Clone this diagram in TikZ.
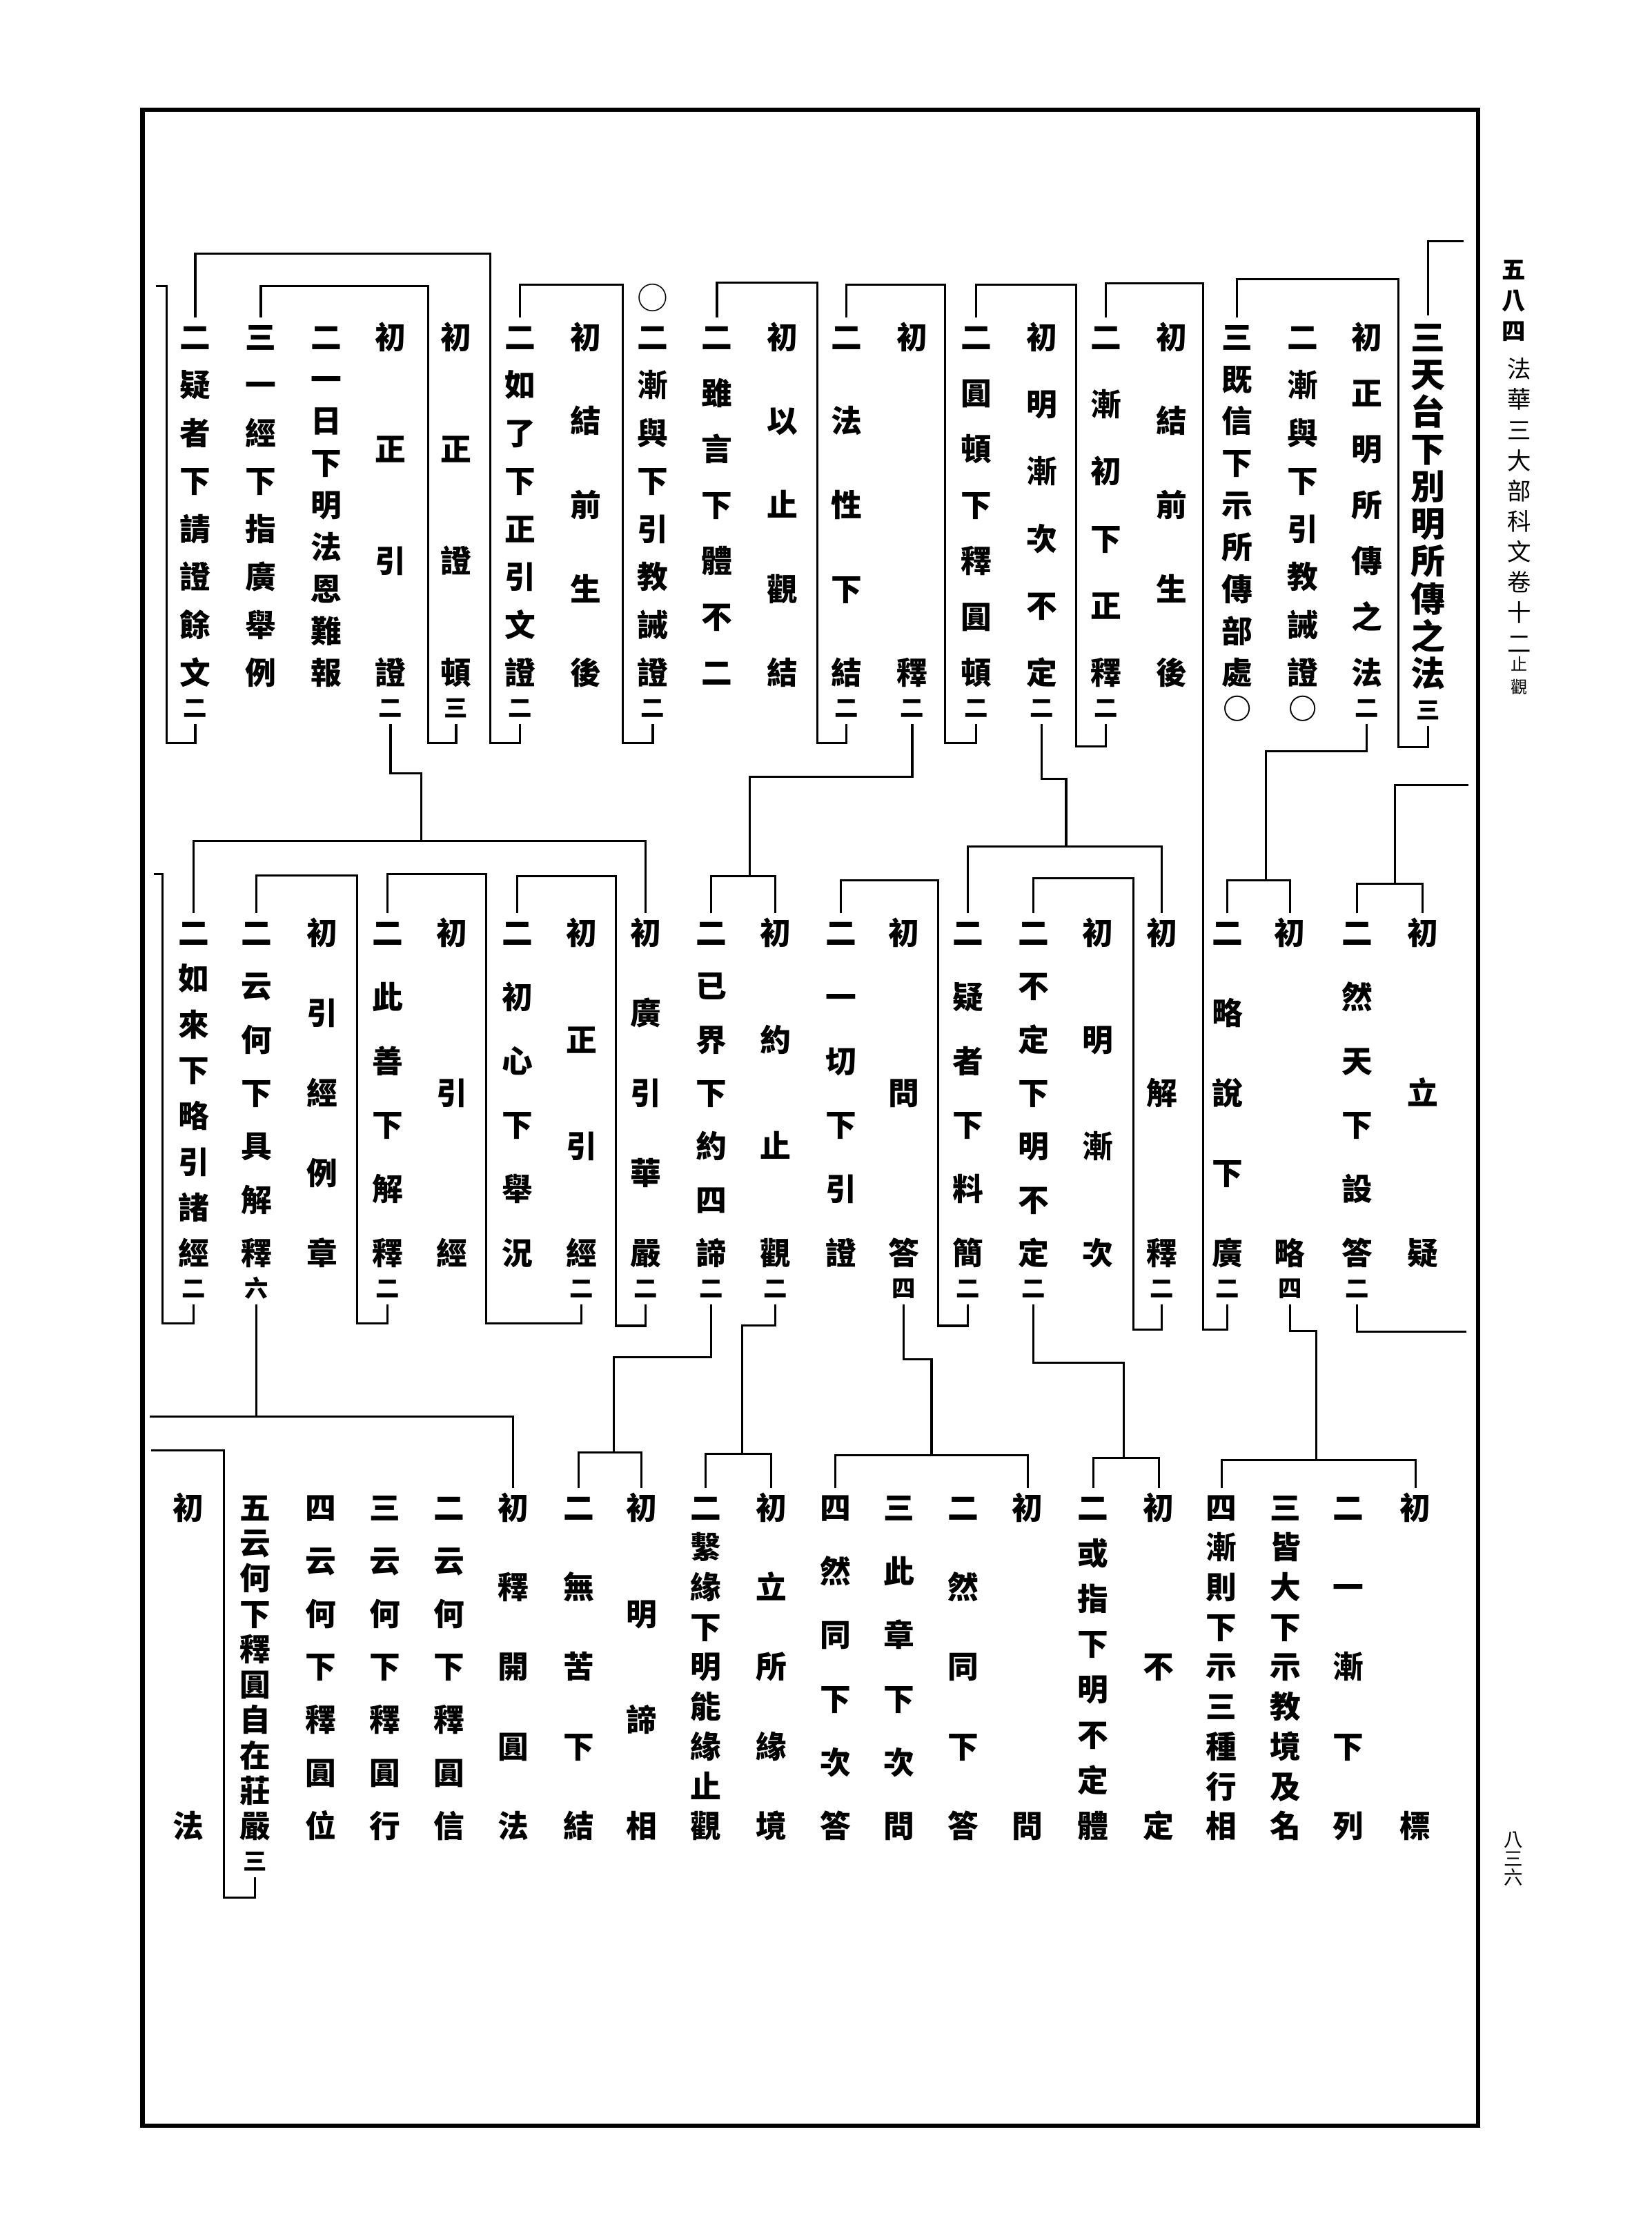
\documentclass[tikz,border=0pt]{standalone}
\usepackage{fontspec}
\newfontfamily\cjk{Noto Sans CJK TC}
\makeatletter
\newdimen\kcw \kcw=16pt
\newdimen\kh \kh=150pt
\def\kchars#1{\kc@first#1\relax}
\def\kc@first#1{\kc@box{#1}\kc@rest}
\def\kc@rest#1{\ifx#1\relax\else\vfill\kc@box{#1}\expandafter\kc@rest\fi}
\def\kc@box#1{\hbox to\kcw{\hss\vrule width0pt height.88em depth.12em\relax#1\hss}}
\newcommand\kcol[2]{\vbox{\offinterlineskip
  \vbox to\kh{\kchars{#1}}%
  \if\relax\detokenize{#2}\relax\else
    \kern3.3pt\hbox to\kcw{\hss\fontsize{10pt}{10pt}\selectfont
      \vrule width0pt height.88em depth.12em\relax#2\hss}%
  \fi}}
\makeatother
\tikzset{
  kolumn/.style={anchor=north, inner xsep=0pt, inner ysep=1.5pt,
    font=\cjk\bfseries\fontsize{13pt}{13pt}\selectfont},
  toptier/.style={kolumn, execute at begin node={\kh=152.8pt}},
  midtier/.style={kolumn, execute at begin node={\kh=146.2pt}},
  bottier/.style={kolumn, execute at begin node={\kh=145.6pt}},
  kline/.style={line width=0.9pt},
  pageframe/.style={line width=1.8pt},
}
\begin{document}
\begin{tikzpicture}[x=0.6pt,y=0.6pt,yscale=-1]
\useasboundingbox (0,0) rectangle (1159,1565.7);

%Shape: Rectangle [page frame]
\draw [pageframe] (100,77) rectangle (1037,1491);

% Text Node (margin)
\node [kolumn, font=\cjk\bfseries\fontsize{10pt}{10pt}\selectfont, execute at begin node={\kh=34.6pt}] (pgno) at (1062,177.9) {\kcol{五八四}{}};
\node [kolumn, font=\cjk\fontsize{10pt}{10pt}\selectfont, execute at begin node={\kh=124.2pt}] (title) at (1066,247.7) {\kcol{法華三大部科文卷十二}{}};
\node [kolumn, font=\cjk\fontsize{7pt}{7pt}\selectfont, execute at begin node={\kh=15.6pt}] (juan) at (1066,457.3) {\kcol{止觀}{}};
\node [kolumn, font=\cjk\fontsize{8pt}{8pt}\selectfont, execute at begin node={\kh=22.4pt}] (folio) at (1062,1280.8) {\kcol{八三六}{}};

% Text Node (top tier)
\node [toptier, font=\cjk\bfseries\fontsize{14.5pt}{14.5pt}\selectfont, execute at begin node={\kh=154.3pt}] (A) at (1002,221.4) {\kcol{三天台下別明所傳之法}{三}};
\node [toptier] (B) at (959,222.7) {\kcol{初正明所傳之法}{二}};
\node [toptier] (C) at (914,222.7) {\kcol{二漸與下引教誡證}{{\fontsize{12pt}{12pt}\selectfont ○}}};
\node [toptier] (D) at (868,222.7) {\kcol{三既信下示所傳部處}{{\fontsize{12pt}{12pt}\selectfont ○}}};
\node [toptier] (E) at (822,222.7) {\kcol{初結前生後}{}};
\node [toptier] (F) at (776,222.7) {\kcol{二漸初下正釋}{二}};
\node [toptier] (G) at (731,222.7) {\kcol{初明漸次不定}{二}};
\node [toptier] (H) at (685,222.7) {\kcol{二圓頓下釋圓頓}{二}};
\node [toptier] (I) at (640,222.7) {\kcol{初釋}{二}};
\node [toptier] (J) at (594,222.7) {\kcol{二法性下結}{二}};
\node [toptier] (K) at (549,222.7) {\kcol{初以止觀結}{}};
\node [toptier] (L) at (503,222.7) {\kcol{二雖言下體不二}{}};
\node [toptier] (M) at (458,222.7) {\kcol{二漸與下引教誡證}{二}};
\node [font=\cjk\fontsize{13pt}{13pt}\selectfont, inner sep=0pt] (Mo) at (458,209) {○};
\node [toptier] (N) at (411,222.7) {\kcol{初結前生後}{}};
\node [toptier] (O) at (365,222.7) {\kcol{二如了下正引文證}{二}};
\node [toptier] (P) at (320,222.7) {\kcol{初正證頓}{三}};
\node [toptier] (Q) at (274,222.7) {\kcol{初正引證}{二}};
\node [toptier] (R) at (229,222.7) {\kcol{二一日下明法恩難報}{}};
\node [toptier] (S) at (183,222.7) {\kcol{三一經下指廣舉例}{}};
\node [toptier] (T) at (137,222.7) {\kcol{二疑者下請證餘文}{二}};

% Text Node (middle tier)
\node [midtier] (m1) at (998,640.7) {\kcol{初立疑}{}};
\node [midtier] (m2) at (952,640.7) {\kcol{二然天下設答}{二}};
\node [midtier] (m3) at (905,640.7) {\kcol{初略}{四}};
\node [midtier] (m4) at (861,640.7) {\kcol{二略說下廣}{二}};
\node [midtier] (m5) at (815,640.7) {\kcol{初解釋}{二}};
\node [midtier] (m6) at (770,640.7) {\kcol{初明漸次}{}};
\node [midtier] (m7) at (725,640.7) {\kcol{二不定下明不定}{二}};
\node [midtier] (m8) at (679,640.7) {\kcol{二疑者下料簡}{二}};
\node [midtier] (m9) at (634,640.7) {\kcol{初問答}{四}};
\node [midtier] (m10) at (590,640.7) {\kcol{二一切下引證}{}};
\node [midtier] (m11) at (544,640.7) {\kcol{初約止觀}{二}};
\node [midtier] (m12) at (499,640.7) {\kcol{二已界下約四諦}{二}};
\node [midtier] (m13) at (453,640.7) {\kcol{初廣引華嚴}{二}};
\node [midtier] (m14) at (408,640.7) {\kcol{初正引經}{二}};
\node [midtier] (m15) at (363,640.7) {\kcol{二初心下舉況}{}};
\node [midtier] (m16) at (317,640.7) {\kcol{初引經}{}};
\node [midtier] (m17) at (272,640.7) {\kcol{二此善下解釋}{二}};
\node [midtier] (m18) at (226,640.7) {\kcol{初引經例章}{}};
\node [midtier] (m19) at (180,640.7) {\kcol{二云何下具解釋}{六}};
\node [midtier] (m20) at (136,640.7) {\kcol{二如來下略引諸經}{二}};

% Text Node (bottom tier)
\node [bottier] (b1) at (993,1043.7) {\kcol{初標}{}};
\node [bottier] (b2) at (946,1043.7) {\kcol{二一漸下列}{}};
\node [bottier] (b3) at (902,1043.7) {\kcol{三皆大下示教境及名}{}};
\node [bottier] (b4) at (857,1043.7) {\kcol{四漸則下示三種行相}{}};
\node [bottier] (b5) at (813,1043.7) {\kcol{初不定}{}};
\node [bottier] (b6) at (767,1043.7) {\kcol{二或指下明不定體}{}};
\node [bottier] (b7) at (721,1043.7) {\kcol{初問}{}};
\node [bottier] (b8) at (676,1043.7) {\kcol{二然同下答}{}};
\node [bottier] (b9) at (631,1043.7) {\kcol{三此章下次問}{}};
\node [bottier] (b10) at (586,1043.7) {\kcol{四然同下次答}{}};
\node [bottier] (b11) at (541,1043.7) {\kcol{初立所緣境}{}};
\node [bottier] (b12) at (495,1043.7) {\kcol{二繫緣下明能緣止觀}{}};
\node [bottier] (b13) at (450,1043.7) {\kcol{初明諦相}{}};
\node [bottier] (b14) at (406,1043.7) {\kcol{二無苦下結}{}};
\node [bottier] (b15) at (360,1043.7) {\kcol{初釋開圓法}{}};
\node [bottier] (b16) at (315,1043.7) {\kcol{二云何下釋圓信}{}};
\node [bottier] (b17) at (270,1043.7) {\kcol{三云何下釋圓行}{}};
\node [bottier] (b18) at (225,1043.7) {\kcol{四云何下釋圓位}{}};
\node [bottier] (b19) at (179,1043.7) {\kcol{五云何下釋圓自在莊嚴}{三}};
\node [bottier] (b20) at (132,1043.7) {\kcol{初法}{}};

% Coordinates of bracket spines and page-edge ends
\coordinate (eA) at (1027,169.4);
\coordinate (sA1) at (981,524);     \coordinate (sA2) at (981,195.9);
\coordinate (sB1) at (888,527);     \coordinate (sB2) at (888,617.3);
\coordinate (eR1) at (1030,550.6);  \coordinate (s12) at (978.7,620);
\coordinate (s4a) at (844,932.7);   \coordinate (s4b) at (844,198.8);
\coordinate (sF1) at (755,523.4);   \coordinate (sF2) at (755,199.5);
\coordinate (sG1) at (748,546.4);   \coordinate (sG2) at (748,593.7);
\coordinate (sH1) at (663,521);     \coordinate (sH2) at (663,199.5);
\coordinate (sI1) at (526,545);     \coordinate (sI2) at (526,614.5);
\coordinate (sJ1) at (573.5,521);   \coordinate (sJ2) at (573.5,198.3);
\coordinate (sM1) at (437,521);     \coordinate (sM2) at (437,199.5);
\coordinate (sO1) at (344,521);     \coordinate (sO2) at (344,177.9);
\coordinate (sP1) at (300.5,521);   \coordinate (sP2) at (300.5,200.7);
\coordinate (sQ1) at (295.5,542.3); \coordinate (sQ2) at (295.5,590);
\coordinate (sT1) at (117,521);     \coordinate (sT2) at (117,200.7);  \coordinate (eT) at (109.5,200.7);
\coordinate (eR2) at (1029,934.1);
\coordinate (s3a) at (923.5,933.5); \coordinate (s3b) at (923.5,1024);
\coordinate (s5a) at (795,932.7);   \coordinate (s5b) at (795,615.9);
\coordinate (s7a) at (788.4,955.7); \coordinate (s7b) at (788.4,1022.7);
\coordinate (s8a) at (658,930);     \coordinate (s8b) at (658,617.3);
\coordinate (s9a) at (653.6,953.5); \coordinate (s9b) at (653.6,1020.8);
\coordinate (s11a) at (520.5,929.9); \coordinate (s11b) at (520.5,1020);
\coordinate (s12a) at (430.5,952);  \coordinate (s12b) at (430.5,1018.7);
\coordinate (s13a) at (432,930);    \coordinate (s13b) at (432,614.5);
\coordinate (s14a) at (341,928.5);  \coordinate (s14b) at (341,613.1);
\coordinate (s17a) at (250.5,928.5); \coordinate (s17b) at (250.5,614);
\coordinate (e19) at (105,993.8);
\coordinate (s20a) at (113.8,928.5); \coordinate (s20b) at (113.8,613.1); \coordinate (e20) at (107.8,613.1);
\coordinate (sb19a) at (157,1331);  \coordinate (sb19b) at (157,1017.4); \coordinate (eb19) at (106,1017.4);

%Straight Lines (top tier)
\draw [kline] (A.north) |- (eA);
\draw [kline] (A.south) |- (sA1) -- (sA2) -| (D.north);
\draw [kline] (B.south) |- (sB1) -- (sB2);
\draw [kline] (F.south) |- (sF1) -- (sF2) -| (H.north);
\draw [kline] (G.south) |- (sG1) -- (sG2);
\draw [kline] (H.south) |- (sH1) -- (sH2) -| (J.north);
\draw [kline] (I.south) |- (sI1) -- (sI2);
\draw [kline] (J.south) |- (sJ1) -- (sJ2) -| (L.north);
\draw [kline] (M.south) |- (sM1) -- (sM2) -| (O.north);
\draw [kline] (O.south) |- (sO1) -- (sO2) -| (T.north);
\draw [kline] (P.south) |- (sP1) -- (sP2) -| (S.north);
\draw [kline] (Q.south) |- (sQ1) -- (sQ2);
\draw [kline] (T.south) |- (sT1) -- (sT2) -- (eT);

%Straight Lines (middle tier)
\draw [kline] (eR1) -| (s12);
\draw [kline] (m2.north) |- (s12) -| (m1.north);
\draw [kline] (m2.south) |- (eR2);
\draw [kline] (m4.north) |- (sB2) -| (m3.north);
\draw [kline] (m3.south) |- (s3a) -- (s3b);
\draw [kline] (m4.south) |- (s4a) -- (s4b) -| (F.north);
\draw [kline] (m8.north) |- (sG2) -| (m5.north);
\draw [kline] (m5.south) |- (s5a) -- (s5b) -| (m7.north);
\draw [kline] (m7.south) |- (s7a) -- (s7b);
\draw [kline] (m8.south) |- (s8a) -- (s8b) -| (m10.north);
\draw [kline] (m9.south) |- (s9a) -- (s9b);
\draw [kline] (m12.north) |- (sI2) -| (m11.north);
\draw [kline] (m11.south) |- (s11a) -- (s11b);
\draw [kline] (m12.south) |- (s12a) -- (s12b);
\draw [kline] (m13.south) |- (s13a) -- (s13b) -| (m15.north);
\draw [kline] (m14.south) |- (s14a) -- (s14b) -| (m17.north);
\draw [kline] (m17.south) |- (s17a) -- (s17b) -| (m19.north);
\draw [kline] (m19.south) -- (m19.south |- e19);
\draw [kline] (m20.north) |- (sQ2) -| (m13.north);
\draw [kline] (m20.south) |- (s20a) -- (s20b) -- (e20);

%Straight Lines (bottom tier)
\draw [kline] (b4.north) |- (s3b) -| (b1.north);
\draw [kline] (b6.north) |- (s7b) -| (b5.north);
\draw [kline] (b10.north) |- (s9b) -| (b7.north);
\draw [kline] (b12.north) |- (s11b) -| (b11.north);
\draw [kline] (b14.north) |- (s12b) -| (b13.north);
\draw [kline] (b15.north) |- (e19);
\draw [kline] (b19.south) |- (sb19a) -- (sb19b) -- (eb19);

\end{tikzpicture}
\end{document}
